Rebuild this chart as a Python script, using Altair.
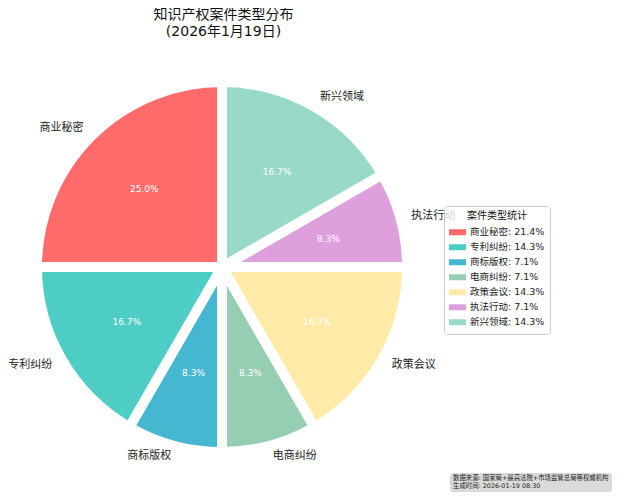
import math
import altair as alt
import pandas as pd

categories = ["商业秘密", "专利纠纷", "商标版权", "电商纠纷", "政策会议", "执法行动", "新兴领域"]
counts = [3, 2, 1, 1, 2, 1, 2]
legend_pct = [21.4, 14.3, 7.1, 7.1, 14.3, 7.1, 14.3]
colors = ["#FF6B6B", "#4ECDC4", "#45B7D1", "#96CEB4", "#FFEAA7", "#DDA0DD", "#98D8C8"]
left_side = ["商业秘密", "专利纠纷", "商标版权"]
title_lines = ["知识产权案件类型分布", "(2026年1月19日)"]
legend_title = "案件类型统计"
footer_lines = ["数据来源: 国家局+最高法院+市场监管总局等权威机构", "生成时间: 2026-01-19 08:30"]

FONT = "DejaVu Sans, Noto Sans CJK SC"
total = sum(counts)
legend_labels = [f"{c}: {p}%" for c, p in zip(categories, legend_pct)]

df = pd.DataFrame({
    "cat": categories,
    "count": counts,
    "order": list(range(len(categories))),
    "pct_label": [f"{c / total * 100:.1f}%" for c in counts],
    "legend_label": legend_labels,
    "side": ["left" if c in left_side else "right" for c in categories],
})

T = 34  # title block height
CX = 221 - 8
CY = 266 - 8 - T
W_STROKE = 10

theta_scale = alt.Scale(domain=[0, total], range=[2 * math.pi, 0])

base = alt.Chart(df).transform_window(
    cum="sum(count)", sort=[alt.SortField("order")]
).transform_calculate(
    start="datum.cum - datum.count",
    mid="datum.cum - datum.count / 2",
)

arcs = base.mark_arc(
    outerRadius=180 + W_STROKE / 2, stroke="white", strokeWidth=W_STROKE, strokeJoin="round"
).encode(
    theta=alt.Theta("start:Q", scale=theta_scale),
    theta2="cum:Q",
    color=alt.Color(
        "legend_label:N",
        scale=alt.Scale(domain=legend_labels, range=colors),
        legend=alt.Legend(
            title=legend_title,
            orient="none",
            legendX=443 - 8,
            legendY=205 - 8 - T,
            symbolType="M-1,-0.35L1,-0.35L1,0.35L-1,0.35Z",
            symbolSize=289,
            symbolStrokeWidth=0,
            clipHeight=12.5,
            rowPadding=2,
            labelFont=FONT,
            labelFontSize=9.5,
            labelColor="#222",
            titleFont=FONT,
            titleFontSize=10,
            titleFontWeight="normal",
            titleColor="#111",
            titleAnchor="middle",
            padding=5,
            fillColor="rgba(255,255,255,0.8)",
            strokeColor="#cccccc",
            cornerRadius=3,
        ),
    ),
    x=alt.value(CX),
    y=alt.value(CY),
)

pct_text = base.mark_text(radius=110, color="white", fontSize=9, font=FONT).encode(
    theta=alt.Theta("mid:Q", scale=theta_scale),
    text="pct_label:N",
    x=alt.value(CX),
    y=alt.value(CY),
)

labels_left = base.transform_filter("datum.side == 'left'").mark_text(
    radius=196, align="right", baseline="middle", fontSize=11, font=FONT, color="#222"
).encode(
    theta=alt.Theta("mid:Q", scale=theta_scale),
    text="cat:N",
    x=alt.value(CX),
    y=alt.value(CY),
)

labels_right = base.transform_filter("datum.side == 'right'").mark_text(
    radius=196, align="left", baseline="middle", fontSize=11, font=FONT, color="#222"
).encode(
    theta=alt.Theta("mid:Q", scale=theta_scale),
    text="cat:N",
    x=alt.value(CX),
    y=alt.value(CY),
)

footer_df = pd.DataFrame({"t": ["\n".join(footer_lines)]})
footer_box = alt.Chart(footer_df).mark_rect(
    color="#d6d6d6", cornerRadius=3, opacity=0.9
).encode(
    x=alt.value(449 - 8), x2=alt.value(611 - 8),
    y=alt.value(472 - 8 - T), y2=alt.value(491 - 8 - T),
)
footer_text = alt.Chart(footer_df).mark_text(
    align="left", baseline="top", lineBreak="\n", fontSize=6.4, font=FONT, color="#222", lineHeight=8
).encode(
    text="t:N",
    x=alt.value(452 - 8),
    y=alt.value(474 - 8 - T),
)

chart = alt.layer(arcs, pct_text, labels_left, labels_right, footer_box, footer_text).properties(
    width=604,
    height=484,
    autosize=alt.AutoSizeParams(type="fit", contains="padding"),
    padding=0,
    title=alt.TitleParams(
        title_lines, fontSize=14, fontWeight="normal", font=FONT, color="#111",
        anchor="middle", dx=-87, offset=4, lineHeight=17,
    ),
).configure_view(stroke=None)

chart.save("out.html", embed_options={"renderer": "svg", "actions": False})
